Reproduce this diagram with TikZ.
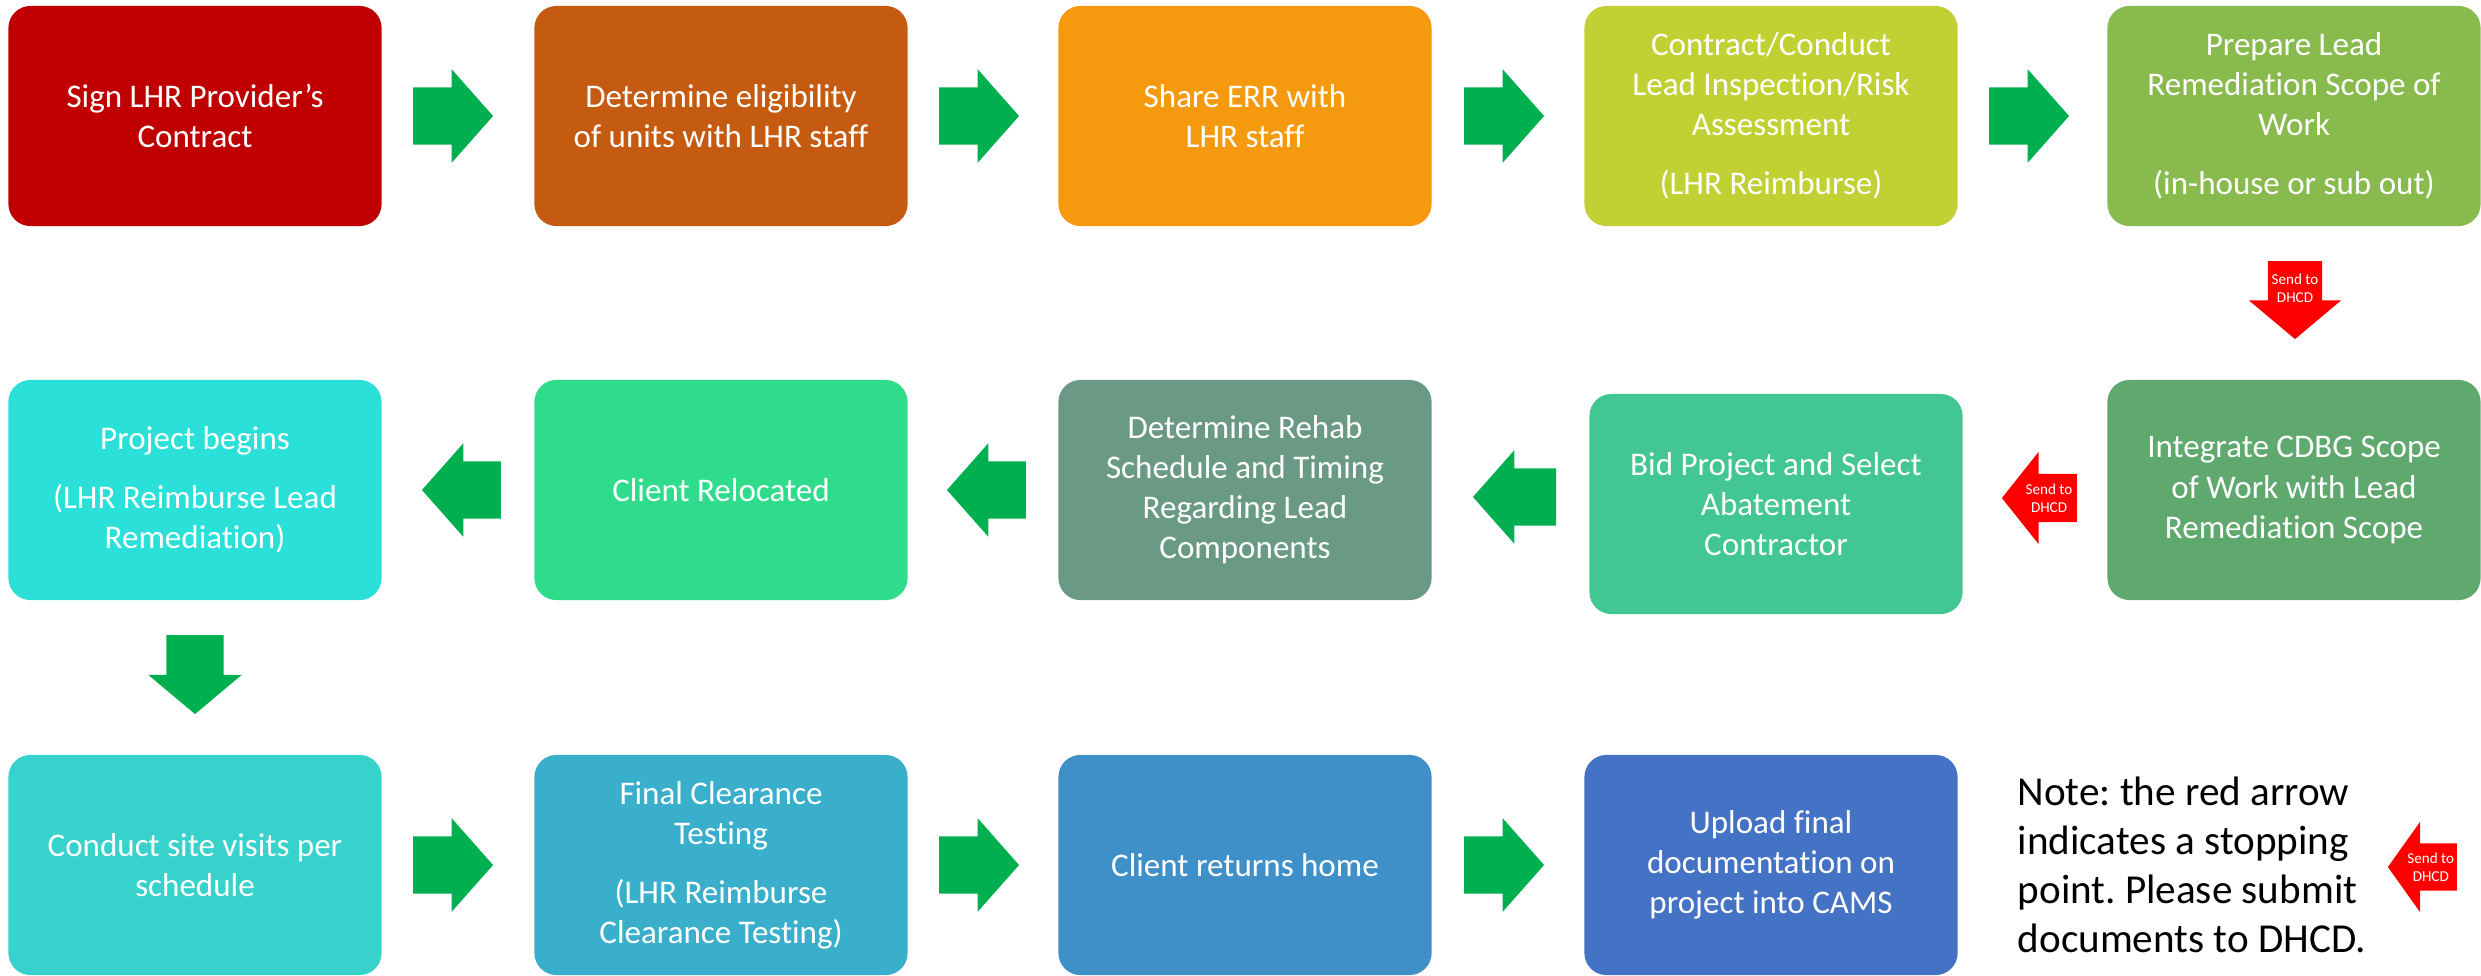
\documentclass[tikz,border=0pt]{standalone}
\usepackage{fontspec}
\setmainfont{Carlito}[Ligatures={TeX,NoCommon}]
\usetikzlibrary{shapes.arrows}
\frenchspacing

\definecolor{cSign}{HTML}{C00000}
\definecolor{cElig}{HTML}{C55A11}
\definecolor{cShare}{HTML}{F59A0F}
\definecolor{cInsp}{HTML}{C1D133}
\definecolor{cScope}{HTML}{88BA4E}
\definecolor{cCdbg}{HTML}{5FA86E}
\definecolor{cBid}{HTML}{42C693}
\definecolor{cRehab}{HTML}{6A9A86}
\definecolor{cReloc}{HTML}{2EDC8C}
\definecolor{cBegin}{HTML}{2BE0D8}
\definecolor{cVisit}{HTML}{37D2CC}
\definecolor{cFinal}{HTML}{3AAFCB}
\definecolor{cHome}{HTML}{3F90C8}
\definecolor{cCams}{HTML}{4472C4}
\definecolor{arrowGreen}{HTML}{00B050}

\begin{document}
\begin{tikzpicture}
        [x=0.01cm,y=-0.01cm,
         box/.style={rectangle,rounded corners=0.22cm,minimum width=3.73cm,minimum height=2.2cm,
                     inner sep=0pt,text=white,align=center,font=\fontsize{9.4}{11.4}\selectfont},
         garrow/.style={single arrow,fill=arrowGreen,inner xsep=0pt,inner ysep=0.28cm,minimum width=0.92cm,
                     minimum height=0.8cm,single arrow head extend=0.18cm,single arrow tip angle=97,anchor=tip},
         rarrow/.style={single arrow,fill=red,inner xsep=0.02cm,inner ysep=0.05cm,text=white,align=center,
                     font=\fontsize{4.3}{5.1}\selectfont,minimum width=0.92cm,
                     single arrow head extend=0.18cm,anchor=tip}]
        \useasboundingbox (0,0) rectangle (2481,975);

        % first row
        \node[box,fill=cSign]   (Sign) at    (195,116)   {Sign LHR Provider's\\Contract};
        \node[box,fill=cElig]   (Elig) at    (721,116)   {Determine eligibility\\of units with LHR staff};
        \node[box,fill=cShare]  (Share) at   (1245,116)  {Share ERR with\\LHR staff};
        \node[box,fill=cInsp]   (Insp) at    (1771,116)  {Contract/Conduct\\Lead Inspection/Risk\\Assessment\\[5.4pt](LHR Reimburse)};
        \node[box,fill=cScope]  (Scope) at   (2294,116)  {Prepare Lead\\Remediation Scope of\\Work\\[5.4pt](in-house or sub out)};

        % second row
        \node[box,fill=cCdbg]   (Cdbg) at    (2294,490)  {Integrate CDBG Scope\\of Work with Lead\\Remediation Scope};
        \node[box,fill=cBid]    (Bid) at     (1776,504)  {Bid Project and Select\\Abatement\\Contractor};
        \node[box,fill=cRehab]  (Rehab) at   (1245,490)  {Determine Rehab\\Schedule and Timing\\Regarding Lead\\Components};
        \node[box,fill=cReloc]  (Reloc) at   (721,490)   {Client Relocated};
        \node[box,fill=cBegin]  (Begin) at   (195,490)   {Project begins\\[5.4pt](LHR Reimburse Lead\\Remediation)};

        % third row
        \node[box,fill=cVisit]  (Visit) at   (195,865)   {Conduct site visits per\\schedule};
        \node[box,fill=cFinal]  (Final) at   (721,865)   {Final Clearance\\Testing\\[5.4pt](LHR Reimburse\\Clearance Testing)};
        \node[box,fill=cHome]   (Home) at    (1245,865)  {Client returns home};
        \node[box,fill=cCams]   (Cams) at    (1771,865)  {Upload final\\documentation on\\project into CAMS};

        \node[anchor=west,inner sep=0pt,align=left,font=\fontsize{11.7}{13.9}\selectfont]
             (Note) at (2017,865) {Note: the red arrow\\indicates a stopping\\point. Please submit\\documents to DHCD.};

        % green arrows
        \node[garrow]                                   (A1) at (494,116)  {};
        \node[garrow]                                   (A2) at (1020,116) {};
        \node[garrow]                                   (A3) at (1545,116) {};
        \node[garrow]                                   (A4) at (2070,116) {};
        \node[garrow,shape border rotate=180,minimum height=0.83cm] (A5) at (1472,497) {};
        \node[garrow,shape border rotate=180,minimum height=0.79cm] (A6) at (946,490)  {};
        \node[garrow,shape border rotate=180,minimum height=0.79cm] (A7) at (421,490)  {};
        \node[garrow,shape border rotate=270,minimum height=0.79cm,single arrow tip angle=100,
              inner xsep=0.28cm,inner ysep=0pt] (A8) at (195,715) {};
        \node[garrow]                                   (A9) at (494,865)  {};
        \node[garrow]                                   (A10) at (1020,865) {};
        \node[garrow]                                   (A11) at (1545,865) {};

        % red arrows
        \node[rarrow,shape border rotate=270,minimum height=0.78cm,single arrow tip angle=100]
             (R1) at (2295,340) {Send to\\DHCD};
        \node[rarrow,shape border rotate=180,minimum height=0.75cm,single arrow tip angle=103]
             (R2) at (2001,498) {Send to\\DHCD};
        \node[rarrow,shape border rotate=180,minimum height=0.67cm,minimum width=0.90cm,single arrow tip angle=109]
             (R3) at (2387,867) {Send to\\DHCD};
\end{tikzpicture}
\end{document}
